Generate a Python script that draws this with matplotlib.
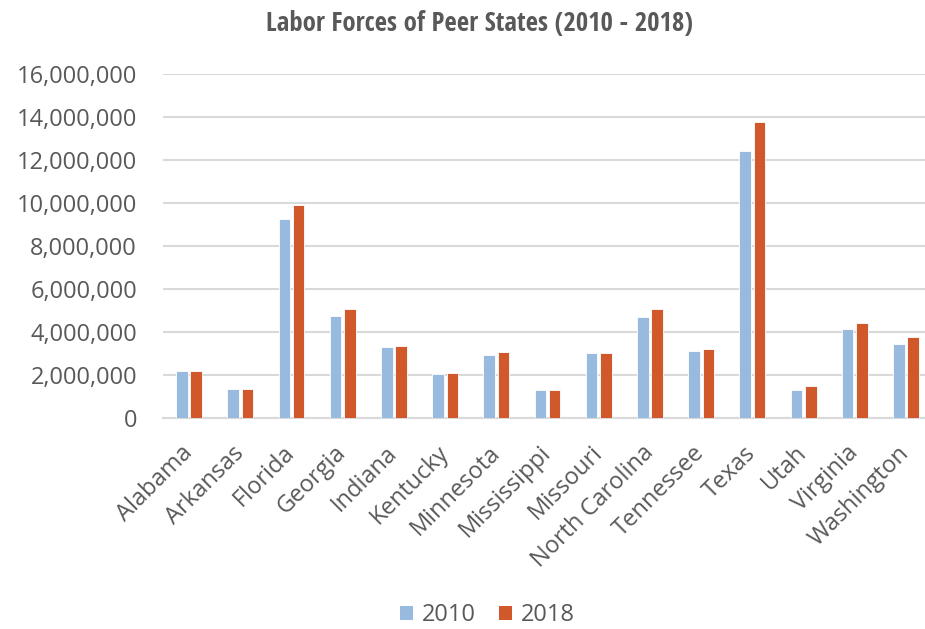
import matplotlib
matplotlib.use("Agg")
import matplotlib.pyplot as plt
from matplotlib.patches import Patch
from matplotlib.ticker import FuncFormatter
from matplotlib import font_manager
import numpy as np

states = ["Alabama", "Arkansas", "Florida", "Georgia", "Indiana", "Kentucky",
          "Minnesota", "Mississippi", "Missouri", "North Carolina", "Tennessee",
          "Texas", "Utah", "Virginia", "Washington"]
labor_2010 = [2190000, 1350000, 9240000, 4750000, 3280000, 2020000, 2920000,
              1290000, 3030000, 4710000, 3090000, 12410000, 1290000, 4120000, 3450000]
labor_2018 = [2190000, 1350000, 9900000, 5070000, 3340000, 2070000, 3050000,
              1290000, 3030000, 5070000, 3200000, 13780000, 1480000, 4400000, 3750000]
series_names = ["2010", "2018"]
y_ticks = [0, 2000000, 4000000, 6000000, 8000000, 10000000, 12000000, 14000000, 16000000]

BLUE = "#99BADF"
ORANGE = "#D0582A"
TEXT = "#595959"
GRID = "#D9D9D9"

plt.rcParams["font.family"] = ["Open Sans", "DejaVu Sans"]

# pick a narrow face for the heading if one is installed
names = {f.name for f in font_manager.fontManager.ttflist}
title_family = ["Open Sans", "DejaVu Sans"]
title_stretch = "condensed"
for cand in ["Open Sans Condensed", "Liberation Sans Narrow", "Roboto Condensed"]:
    if cand in names:
        title_family = [cand, "DejaVu Sans"]
        break

fig = plt.figure(figsize=(9.25, 6.29), dpi=100)
ax = fig.add_axes([0.1767, 0.3359, 0.8305, 0.546])

x = np.arange(len(states))
w = 0.225
off = 0.14
ax.bar(x - off, labor_2010, width=w, color=BLUE, edgecolor="white", linewidth=0.6, zorder=3)
ax.bar(x + off, labor_2018, width=w, color=ORANGE, edgecolor="white", linewidth=0.6, zorder=3)

ax.set_xlim(-0.5, len(states) - 0.5)
ax.set_ylim(0, 16000000)
ax.set_yticks(y_ticks)
ax.yaxis.set_major_formatter(FuncFormatter(lambda v, p: f"{int(v):,}"))
ax.grid(axis="y", color=GRID, linewidth=1.5, zorder=0)
ax.set_axisbelow(True)
for s in ["top", "right", "left"]:
    ax.spines[s].set_visible(False)
ax.spines["bottom"].set_color(GRID)
ax.spines["bottom"].set_linewidth(1.5)
ax.tick_params(axis="y", length=0, pad=19, labelsize=17, labelcolor=TEXT)
ax.tick_params(axis="x", length=0, pad=23, labelsize=17, labelcolor=TEXT)

ax.set_xticks(x)
ax.set_xticklabels(states, rotation=45, ha="right", va="center", rotation_mode="anchor")

fig.text(0.518, 0.963, "Labor Forces of Peer States (2010 - 2018)", ha="center", va="center",
         fontsize=19.3, fontweight="bold", color=TEXT, family=title_family,
         fontstretch=title_stretch)

handles = [Patch(facecolor=BLUE), Patch(facecolor=ORANGE)]
fig.legend(handles, series_names, loc="center", bbox_to_anchor=(0.527, 1 - 615 / 629),
           ncol=2, frameon=False, fontsize=17, labelcolor=TEXT,
           handlelength=0.55, handleheight=0.55, handletextpad=0.35, columnspacing=1.0)

fig.savefig("out.png", dpi=100, facecolor="white")
